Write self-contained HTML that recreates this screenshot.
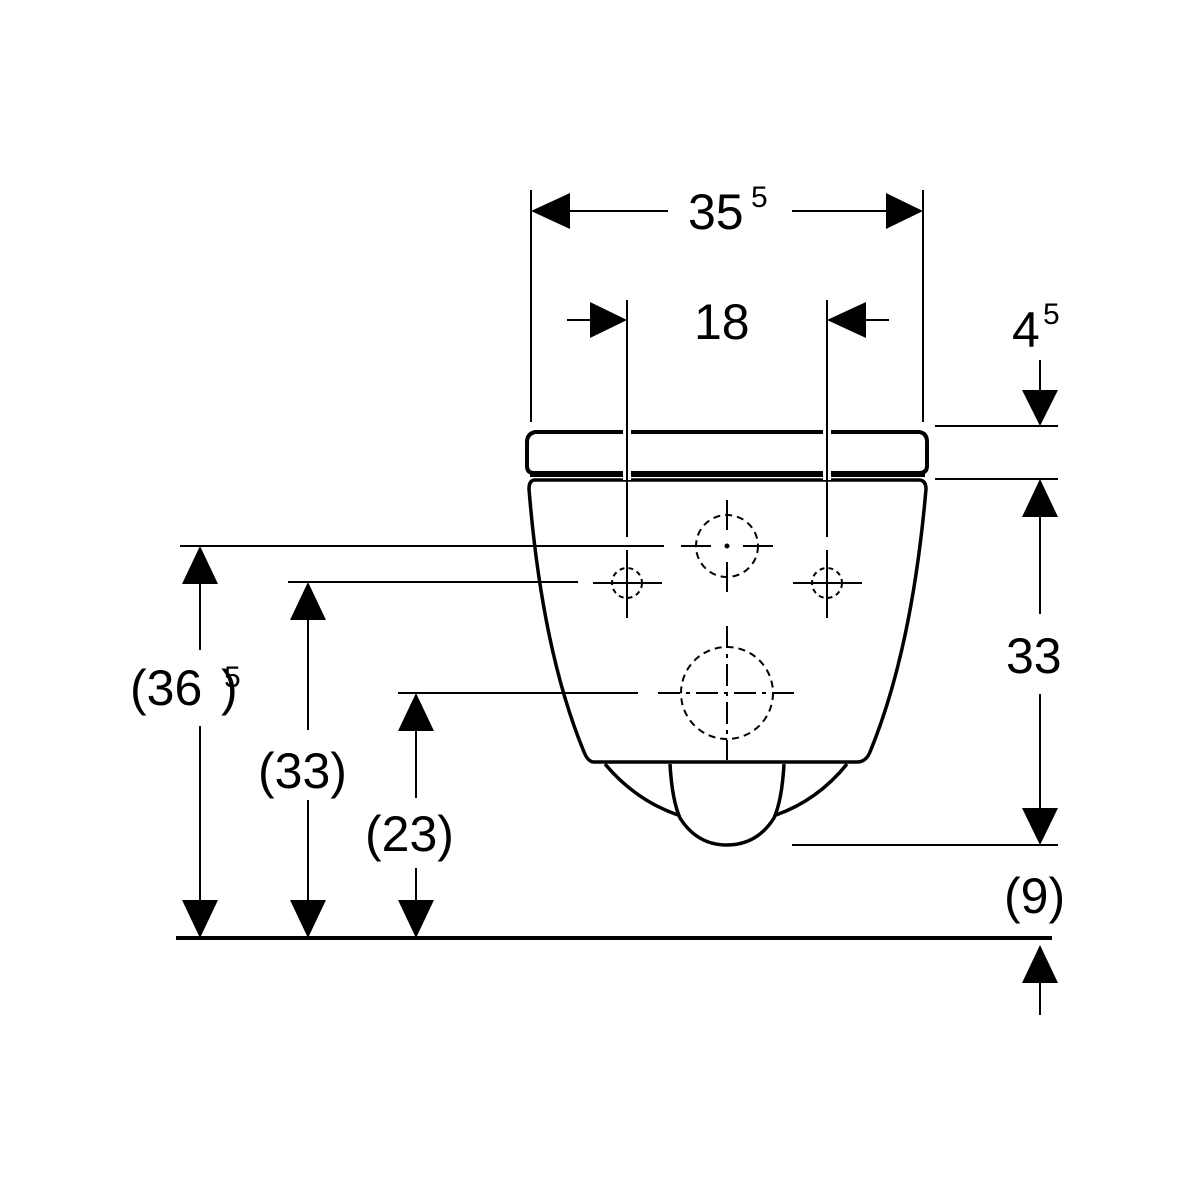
<!DOCTYPE html>
<html><head><style>body{margin:0;background:#fff}svg{display:block}text{font-family:"Liberation Sans",sans-serif;fill:#000}</style></head><body>
<svg width="1200" height="1200" viewBox="0 0 1200 1200" xmlns="http://www.w3.org/2000/svg">
<g stroke="#000" fill="none" stroke-width="2">
<line x1="531" y1="190" x2="531" y2="422"/>
<line x1="923" y1="190" x2="923" y2="422"/>
<line x1="935" y1="426" x2="1058" y2="426"/>
<line x1="935" y1="479" x2="1058" y2="479"/>
<line x1="792" y1="845" x2="1058" y2="845"/>
<line x1="180" y1="546" x2="664" y2="546"/>
<line x1="288" y1="582" x2="578" y2="582"/>
<line x1="398" y1="693" x2="638" y2="693"/>
<line x1="570" y1="211" x2="668" y2="211"/><line x1="792" y1="211" x2="886" y2="211"/>
<line x1="567" y1="320" x2="590" y2="320"/><line x1="866" y1="320" x2="889" y2="320"/>
<line x1="1040" y1="360" x2="1040" y2="392"/>
<line x1="1040" y1="515" x2="1040" y2="614"/><line x1="1040" y1="694" x2="1040" y2="808"/>
<line x1="1040" y1="983" x2="1040" y2="1015"/>
<line x1="200" y1="582" x2="200" y2="650"/><line x1="200" y1="726" x2="200" y2="902"/>
<line x1="308" y1="618" x2="308" y2="730"/><line x1="308" y1="800" x2="308" y2="902"/>
<line x1="416" y1="729" x2="416" y2="798"/><line x1="416" y1="868" x2="416" y2="902"/>
<line x1="176" y1="938" x2="1052" y2="938" stroke-width="4"/>
<path d="M535,432 L919,432 Q927,433 927,442 L927,466 Q927,473 919,473 L534,473 Q527,473 527,466 L527,442 Q527,434 535,432 Z" stroke-width="4"/>
<line x1="530" y1="474" x2="925" y2="474" stroke-width="6"/>
<path d="M534,480 L920,480 Q926,481 926,489 Q912,650 870,752 Q866,762 857,762 L594,762 Q588,762 584,752 Q542,650 529,489 Q529,481 534,480 Z" stroke-width="3.5"/>
<path d="M605,764 Q635,800 678,815" stroke-width="3.5"/>
<path d="M847,764 Q818,800 776,815" stroke-width="3.5"/>
<path d="M670,764 Q672,800 680,818 Q697,845 727,845 Q757,845 774,818 Q782,800 784,764" stroke-width="3.5"/>
<!-- vertical lines crossing seat with white gaps -->
<line x1="627" y1="427" x2="627" y2="480" stroke="#fff" stroke-width="8"/>
<line x1="827" y1="427" x2="827" y2="480" stroke="#fff" stroke-width="8"/>
<line x1="627" y1="300" x2="627" y2="537"/>
<line x1="827" y1="300" x2="827" y2="537"/>
<g stroke-width="2">
<circle cx="727" cy="546" r="31" stroke-dasharray="7,5"/>
<line x1="727" y1="500" x2="727" y2="530"/><line x1="727" y1="562" x2="727" y2="592"/>
<line x1="681" y1="546" x2="711" y2="546"/><line x1="743" y1="546" x2="773" y2="546"/>
<circle cx="727" cy="546" r="1.5" fill="#000"/>
<circle cx="627" cy="583" r="15" stroke-dasharray="5,4"/>
<line x1="627" y1="550" x2="627" y2="618"/><line x1="593" y1="583" x2="662" y2="583"/>
<circle cx="827" cy="583" r="15" stroke-dasharray="5,4"/>
<line x1="827" y1="550" x2="827" y2="618"/><line x1="793" y1="583" x2="862" y2="583"/>
<circle cx="727" cy="693" r="46" stroke-dasharray="7,5"/>
<line x1="727" y1="626" x2="727" y2="760" stroke-dasharray="22,6,4,6"/>
<line x1="658" y1="693" x2="797" y2="693" stroke-dasharray="22,6,4,6"/>
</g>
</g>
<g fill="#000">
<polygon points="531,211 570,193 570,229"/><polygon points="923,211 886,193 886,229"/>
<polygon points="627,320 590,302 590,338"/><polygon points="827,320 866,302 866,338"/>
<polygon points="1040,426 1022,390 1058,390"/>
<polygon points="1040,479 1022,517 1058,517"/><polygon points="1040,845 1022,808 1058,808"/>
<polygon points="1040,945 1022,983 1058,983"/>
<polygon points="200,546 182,584 218,584"/><polygon points="200,938 182,900 218,900"/>
<polygon points="308,582 290,620 326,620"/><polygon points="308,938 290,900 326,900"/>
<polygon points="416,693 398,731 434,731"/><polygon points="416,938 398,900 434,900"/>
</g>
<g font-size="50">
<text x="688" y="229">35</text><text x="751" y="207" font-size="30">5</text>
<text x="694" y="339">18</text>
<text x="1012" y="347">4</text><text x="1043" y="324" font-size="30">5</text>
<text x="1006" y="673">33</text>
<text x="1004" y="913">(9)</text>
<text x="130" y="705">(36</text><text x="221" y="705">)</text><text x="224" y="687" font-size="30">5</text>
<text x="258" y="788">(33)</text>
<text x="365" y="851">(23)</text>
</g>
</svg>
</body></html>
